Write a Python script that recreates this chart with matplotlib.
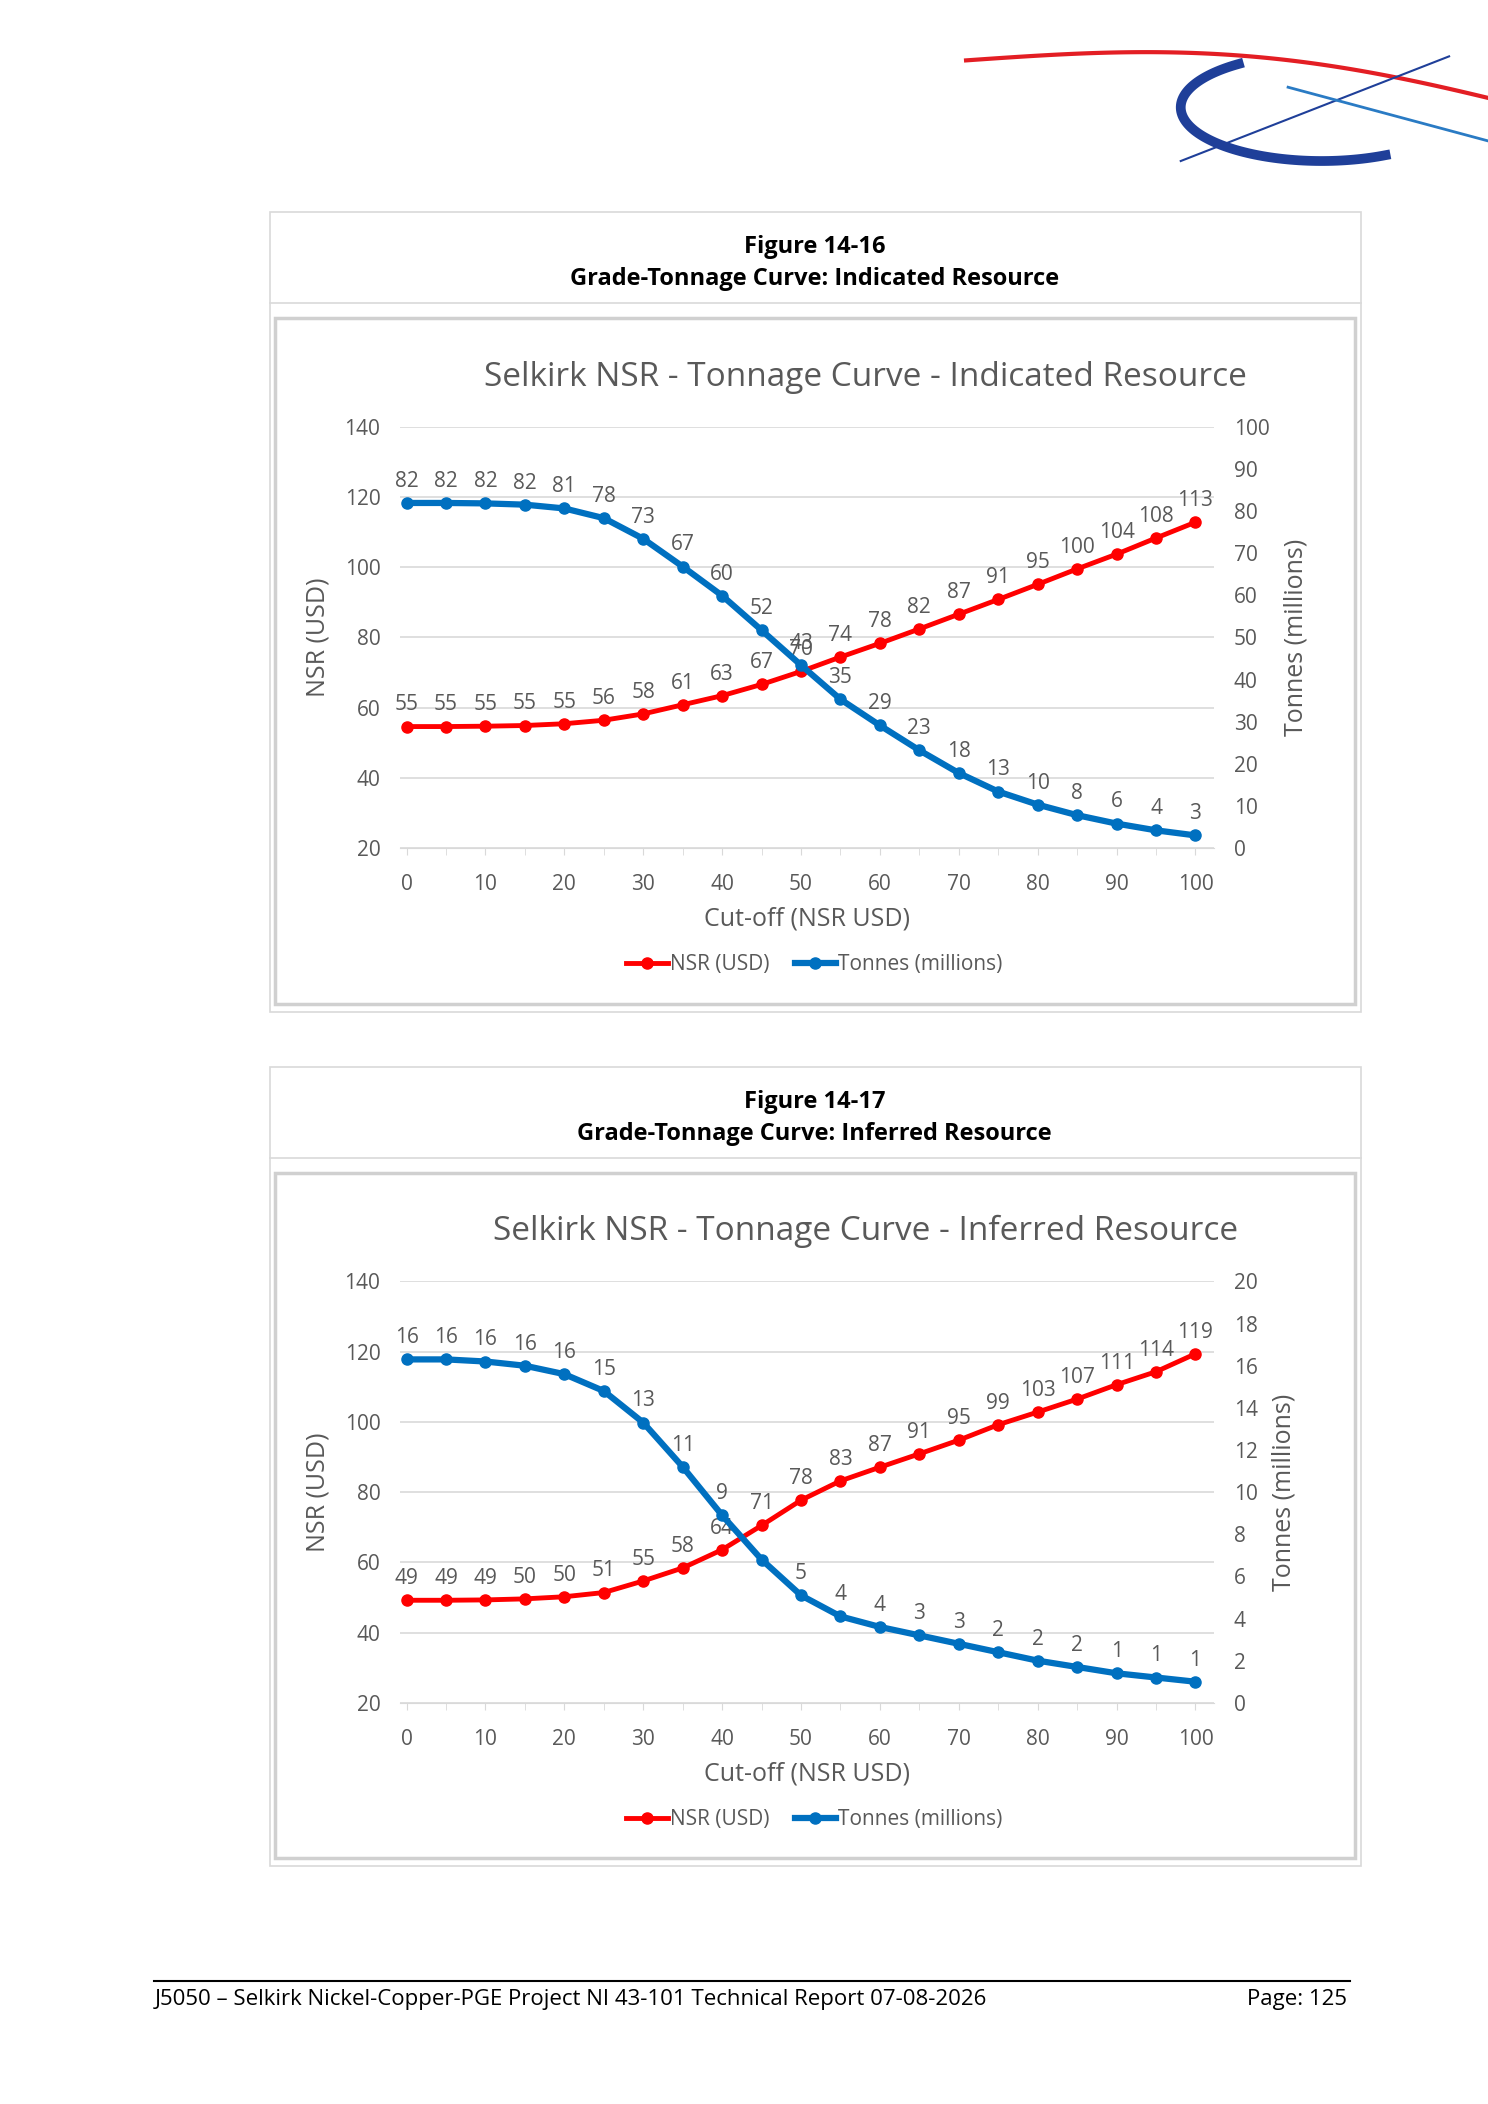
import matplotlib.pyplot as plt
from matplotlib.patches import Rectangle
import numpy as np

plt.rcParams['font.family'] = ['Open Sans', 'DejaVu Sans']

cutoff = list(range(0, 105, 5))

ind_nsr = [54.6, 54.6, 54.7, 54.9, 55.4, 56.4, 58.2, 60.8, 63.4, 66.6, 70.3,
           74.4, 78.3, 82.4, 86.6, 90.8, 95.1, 99.5, 103.7, 108.3, 112.8]
ind_nsr_lab = [55, 55, 55, 55, 55, 56, 58, 61, 63, 67, 70, 74, 78, 82, 87, 91, 95, 100, 104, 108, 113]
ind_ton = [81.9, 81.9, 81.8, 81.5, 80.6, 78.3, 73.4, 66.8, 59.9, 51.7, 43.4,
           35.3, 29.1, 23.2, 17.8, 13.4, 10.3, 7.8, 5.8, 4.2, 3.0]
ind_ton_lab = [82, 82, 82, 82, 81, 78, 73, 67, 60, 52, 43, 35, 29, 23, 18, 13, 10, 8, 6, 4, 3]

inf_nsr = [49.2, 49.2, 49.3, 49.6, 50.2, 51.4, 54.7, 58.4, 63.6, 70.5, 77.7,
           83.2, 87.1, 90.9, 94.8, 99.2, 102.8, 106.5, 110.6, 114.3, 119.4]
inf_nsr_lab = [49, 49, 49, 50, 50, 51, 55, 58, 64, 71, 78, 83, 87, 91, 95, 99, 103, 107, 111, 114, 119]
inf_ton = [16.3, 16.3, 16.2, 16.0, 15.6, 14.8, 13.3, 11.2, 8.9, 6.8, 5.1,
           4.1, 3.6, 3.2, 2.8, 2.4, 2.0, 1.7, 1.4, 1.2, 1.0]
inf_ton_lab = [16, 16, 16, 16, 16, 15, 13, 11, 9, None, 5, 4, 4, 3, 3, 2, 2, 2, 1, 1, 1]

RED = '#FF0000'
BLUE = '#0070C0'
GREY = '#595959'
W, H = 1109, 1568

fig = plt.figure(figsize=(14.88, 21.04), dpi=100)


def fx(x):
    return x / W


def fy(y):
    return 1 - y / H


def box(x0, y0, x1, y1, color, lw):
    fig.patches.append(Rectangle((fx(x0), fy(y1)), fx(x1) - fx(x0), fy(y0) - fy(y1),
                                 transform=fig.transFigure, fill=False, ec=color, lw=lw))


def panel(top, fignum, subtitle, title, nsr, nsr_lab, ton, ton_lab, tmax, tstep):
    box(201, top, 1014, top + 596, '#D9D9D9', 1.2)
    fig.add_artist(plt.Line2D([fx(201), fx(1014)], [fy(top + 68), fy(top + 68)],
                              transform=fig.transFigure, color='#D9D9D9', lw=1.2))
    box(205, top + 79, 1010, top + 590, '#D0D0D0', 2.5)
    fig.text(fx(607), fy(top + 26), fignum, ha='center', va='center', fontsize=17, weight='bold')
    fig.text(fx(607), fy(top + 50), subtitle, ha='center', va='center', fontsize=17, weight='bold')
    fig.text(fx(645), fy(top + 123), title, ha='center', va='center', fontsize=24, color=GREY)

    x0, x1 = 298, 905
    y0, y1 = top + 160, top + 474
    ax = fig.add_axes([fx(x0), fy(y1), fx(x1) - fx(x0), fy(y0) - fy(y1)])
    ax.set_xlim((x0 - 303) / 5.88, (x1 - 303) / 5.88)
    ax.set_ylim(20, 140)
    ax.set_yticks(range(20, 141, 20))
    ax.set_xticks(range(0, 101, 10))
    ax.grid(axis='y', color='#D9D9D9', lw=1.2)
    ax.set_axisbelow(True)
    for s in ['top', 'right', 'left']:
        ax.spines[s].set_visible(False)
    ax.spines['bottom'].set_color('#D9D9D9')
    ax.tick_params(axis='both', colors=GREY, labelsize=15, length=0, pad=14)
    ax.tick_params(axis='x', length=5, color='#D9D9D9', pad=14)
    ax.set_xticks(cutoff, minor=True)
    ax.tick_params(axis='x', which='minor', length=5, color='#D9D9D9')
    ax.set_xlabel('Cut-off (NSR USD)', fontsize=18, color=GREY, labelpad=8)
    ax.set_ylabel('NSR (USD)', fontsize=18, color=GREY, labelpad=10)

    ax2 = ax.twinx()
    ax2.set_ylim(0, tmax)
    ax2.set_yticks(np.arange(0, tmax + 0.1, tstep))
    for s in ax2.spines.values():
        s.set_visible(False)
    ax2.tick_params(axis='y', colors=GREY, labelsize=15, length=0, pad=14)
    ax2.set_ylabel('Tonnes (millions)', fontsize=18, color=GREY, labelpad=10)

    l1, = ax.plot(cutoff, nsr, color=RED, lw=3.5, marker='o', ms=8, label='NSR (USD)', zorder=3)
    l2, = ax2.plot(cutoff, ton, color=BLUE, lw=4.5, marker='o', ms=8, label='Tonnes (millions)', zorder=3)
    for x, v, t in zip(cutoff, nsr, nsr_lab):
        ax.annotate(str(t), (x, v), xytext=(0, 8), textcoords='offset points',
                    ha='center', va='bottom', fontsize=15, color=GREY)
    for x, v, t in zip(cutoff, ton, ton_lab):
        if t is None:
            continue
        ax2.annotate(str(t), (x, v), xytext=(0, 8), textcoords='offset points',
                     ha='center', va='bottom', fontsize=15, color=GREY)
    fig.legend(handles=[l1, l2], loc='center', bbox_to_anchor=(fx(607), fy(top + 561)),
               ncol=2, frameon=False, fontsize=15, labelcolor=GREY, handlelength=2.0,
               handletextpad=0.1, columnspacing=1.2)


panel(158, 'Figure 14-16', 'Grade-Tonnage Curve: Indicated Resource',
      'Selkirk NSR - Tonnage Curve - Indicated Resource',
      ind_nsr, ind_nsr_lab, ind_ton, ind_ton_lab, 100, 10)
panel(795, 'Figure 14-17', 'Grade-Tonnage Curve: Inferred Resource',
      'Selkirk NSR - Tonnage Curve - Inferred Resource',
      inf_nsr, inf_nsr_lab, inf_ton, inf_ton_lab, 20, 2)

# footer
fig.add_artist(plt.Line2D([fx(115), fx(1006)], [fy(1476), fy(1476)],
                          transform=fig.transFigure, color='black', lw=1.5))
fig.text(fx(115), fy(1490), 'J5050 \u2013 Selkirk Nickel-Copper-PGE Project NI 43-101 Technical Report 07-08-2026',
         ha='left', va='center', fontsize=16)
fig.text(fx(1004), fy(1490), 'Page: 125', ha='right', va='center', fontsize=16)

# logo swooshes (decorative)
lg = fig.add_axes([fx(715), fy(125), fx(1109) - fx(715), fy(20) - fy(125)])
lg.set_xlim(715, 1109)
lg.set_ylim(125, 20)
lg.axis('off')
t = np.linspace(0, 1, 100)
lg.plot(720 + 390 * t, 45 - 22 * np.sin(np.pi * t * 0.9) + 35 * t, color='#E31E24', lw=3)
ang = np.linspace(0.35, 1.3, 100) * np.pi
lg.plot(985 + 105 * np.cos(ang), 80 + 40 * np.sin(ang), color='#1F3F99', lw=7)
lg.plot(880 + 200 * t, 120 - 78 * t, color='#1F3F99', lw=1.5)
lg.plot(960 + 149 * t, 65 + 40 * t, color='#2A7BC4', lw=2)

fig.savefig('out.png', dpi=100)
